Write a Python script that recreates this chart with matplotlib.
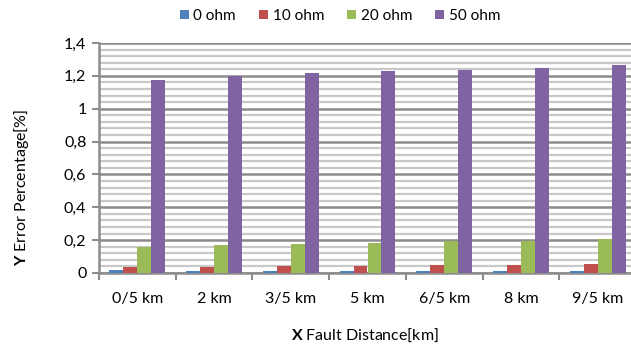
import numpy as np
import matplotlib
matplotlib.use('Agg')
import matplotlib.pyplot as plt
from matplotlib.ticker import MultipleLocator, FuncFormatter

plt.rcParams['font.family'] = ['Lato', 'DejaVu Sans']
plt.rcParams['mathtext.fontset'] = 'custom'
plt.rcParams['mathtext.bf'] = 'Lato:bold'
plt.rcParams['mathtext.rm'] = 'Lato'

# data
categories = ['0/5 km', '2 km', '3/5 km', '5 km', '6/5 km', '8 km', '9/5 km']
ohm0 = [0.020, 0.015, 0.012, 0.012, 0.011, 0.011, 0.012]
ohm10 = [0.035, 0.038, 0.040, 0.044, 0.046, 0.047, 0.053]
ohm20 = [0.160, 0.168, 0.178, 0.185, 0.192, 0.197, 0.205]
ohm50 = [1.175, 1.198, 1.215, 1.228, 1.238, 1.247, 1.265]
series = ['0 ohm', '10 ohm', '20 ohm', '50 ohm']
colors = ['#4F81BD', '#C0504D', '#9BBB59', '#8064A2']

fig = plt.figure(figsize=(6.31, 3.45), dpi=100)
ax = fig.add_axes([99/631, 72/345, 537/631, 230/345])

x = np.arange(len(categories))
w = 0.182
for i, (vals, lab, c) in enumerate(zip([ohm0, ohm10, ohm20, ohm50], series, colors)):
    ax.bar(x + (i - 1.5) * w, vals, w, color=c, label=lab, zorder=3)

ax.set_xlim(-0.5, len(categories) - 0.5)
ax.set_ylim(0, 1.4)
ax.yaxis.set_major_locator(MultipleLocator(0.2))
ax.yaxis.set_minor_locator(MultipleLocator(0.04))
ax.yaxis.set_major_formatter(FuncFormatter(lambda v, p: ('%g' % round(v, 1)).replace('.', ',')))
ax.grid(axis='y', which='minor', color='#c8c8c8', linewidth=1.6, zorder=0)
ax.grid(axis='y', which='major', color='#8c8c8c', linewidth=1.8, zorder=1)
ax.tick_params(axis='y', which='minor', length=0)
ax.tick_params(axis='y', which='major', length=5, width=1.5, color='#8c8c8c', labelsize=11.5, pad=4)

ax.set_xticks(x)
ax.set_xticklabels(categories, fontsize=11.5)
ax.set_xticks(np.arange(len(categories) + 1) - 0.5, minor=True)
ax.tick_params(axis='x', which='major', length=0, pad=14)
ax.tick_params(axis='x', which='minor', length=5, width=1.5, color='#8c8c8c')

for s in ['top', 'right']:
    ax.spines[s].set_visible(False)
for s in ['left', 'bottom']:
    ax.spines[s].set_color('#8c8c8c')
    ax.spines[s].set_linewidth(1.8)

fig.text(22/631, 158/345, r'$\mathbf{Y}$ Error Percentage[%]', rotation=90,
         ha='center', va='center', fontsize=11.5)
fig.text(365/631, 1 - 335/345, r'$\mathbf{X}$ Fault Distance[km]',
         ha='center', va='center', fontsize=11.5)

fig.legend(loc='center', bbox_to_anchor=(340/631, 1 - 16/345), ncol=4, frameon=False,
           fontsize=11, handlelength=0.6, handleheight=0.6, handletextpad=0.3,
           columnspacing=1.5)

fig.savefig('out.png', dpi=100)
